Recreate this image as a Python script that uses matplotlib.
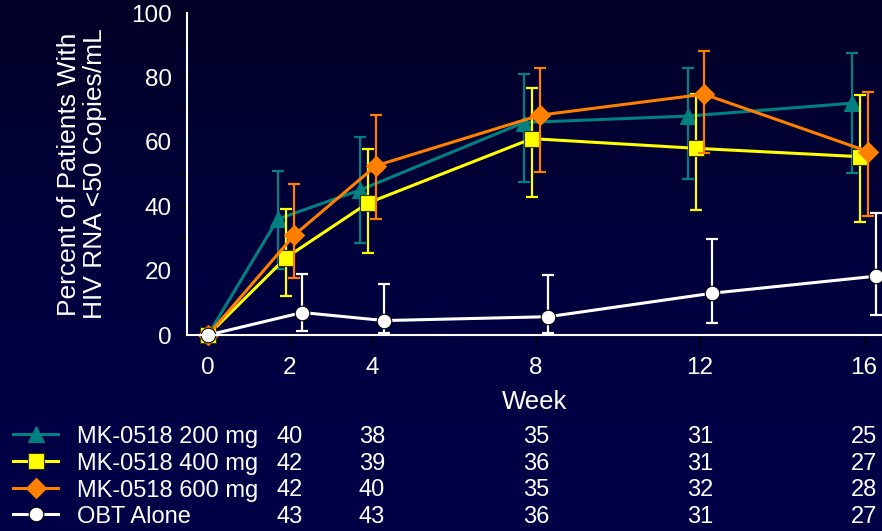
import matplotlib
matplotlib.use('Agg')
import matplotlib.pyplot as plt
import matplotlib.transforms as mtransforms
from matplotlib.lines import Line2D
import numpy as np

plt.rcParams['font.family'] = ['Liberation Sans', 'DejaVu Sans']

# data
weeks = [0, 2, 4, 8, 12, 16]
names = ['MK-0518 200 mg', 'MK-0518 400 mg', 'MK-0518 600 mg', 'OBT Alone']

teal_y = [0, 36, 45, 66, 68, 72]
teal_hi = [0, 51, 61.5, 81, 83, 87.6]
teal_lo = [0, 20.5, 28.5, 47.6, 48.4, 50.4]

yellow_y = [0, 24, 41, 61, 58, 55.4]
yellow_hi = [0, 39, 57.7, 76.6, 75, 74.4]
yellow_lo = [0, 12, 25.4, 43, 38.8, 35.2]

orange_y = [0, 31, 52.6, 68.3, 74.8, 57]
orange_hi = [0, 47, 68.3, 82.8, 88.3, 75.4]
orange_lo = [0, 17.6, 36, 50.5, 56.4, 37]

obt_y = [0, 7, 4.5, 5.7, 13, 18.3]
obt_hi = [0, 19, 15.8, 18.6, 29.7, 37.8]
obt_lo = [0, 1.3, 0.5, 0.7, 3.7, 6.2]

# patients at risk table (weeks 2, 4, 8, 12, 16)
table_weeks = [2, 4, 8, 12, 16]
n_200 = [40, 38, 35, 31, 25]
n_400 = [42, 39, 36, 31, 27]
n_600 = [42, 40, 35, 32, 28]
n_obt = [43, 43, 36, 31, 27]

series = [
    (teal_y, teal_hi, teal_lo, n_200, '#008080', '^', 12, 'none', -0.3),
    (yellow_y, yellow_hi, yellow_lo, n_400, '#FFFF00', 's', 12, '#333300', -0.1),
    (orange_y, orange_hi, orange_lo, n_600, '#FF7F00', 'D', 10, 'none', 0.1),
    (obt_y, obt_hi, obt_lo, n_obt, '#FFFFFF', 'o', 10.5, 'black', 0.3),
]

fig = plt.figure(figsize=(8.82, 5.31), dpi=100)

# navy gradient background
bg = fig.add_axes([0, 0, 1, 1], zorder=-10)
grad = np.linspace(0, 1, 256).reshape(-1, 1)
cmap = matplotlib.colors.LinearSegmentedColormap.from_list('navy', ['#000026', '#00003e', '#000048'])
bg.imshow(grad, aspect='auto', cmap=cmap, extent=[0, 1, 0, 1])
bg.axis('off')

ax = fig.add_axes([0.212, 0.369, 0.788, 0.6064])
ax.set_facecolor('none')

for y, hi, lo, n, col, mk, ms, mec, off in series:
    x = np.array(weeks, dtype=float) + np.where(np.array(weeks) > 0, off, 0)
    y = np.array(y)
    err = [y - np.array(lo), np.array(hi) - y]
    ax.errorbar(x[1:], y[1:], yerr=[e[1:] for e in err], fmt='none', ecolor=col,
                elinewidth=1.6, capsize=4.5, capthick=1.6, clip_on=False)
    ax.plot(x, y, color=col, lw=2.2, marker=mk, markersize=ms,
            markerfacecolor=col, markeredgecolor=(mec if mec != 'none' else col),
            markeredgewidth=0.8, clip_on=False)

ax.set_xlim(-0.512, 16.44)
ax.set_ylim(0, 100)
ax.set_xticks([0, 2, 4, 8, 12, 16])
ax.set_yticks([0, 20, 40, 60, 80, 100])
ax.set_yticks(np.arange(10, 100, 20), minor=True)
for s in ['top', 'right']:
    ax.spines[s].set_visible(False)
for s in ['left', 'bottom']:
    ax.spines[s].set_color('white')
    ax.spines[s].set_linewidth(1.5)
ax.tick_params(axis='x', colors='black', labelcolor='white', length=7.5, width=1,
               labelsize=17.5, pad=8)
ax.tick_params(axis='y', which='both', colors='black', labelcolor='white', length=6,
               width=1, labelsize=17.5, pad=5)

ax.set_xlabel('Week', color='white', fontsize=18.5, labelpad=8)
ax.set_ylabel('Percent of Patients With\nHIV RNA <50 Copies/mL', color='white',
              fontsize=19, linespacing=1.1)
ax.yaxis.set_label_coords(-0.115, 0.5)

# table of patients under the plot
trans = mtransforms.blended_transform_factory(ax.transData, fig.transFigure)
row_y = [437, 464, 490.5, 517]
for (y, hi, lo, n, col, mk, ms, mec, off), name, ry in zip(series, names, row_y):
    fy = 1 - ry / 531
    fig.add_artist(Line2D([13 / 882, 58 / 882], [fy + 3 / 531] * 2, color=col, lw=2.2,
                          transform=fig.transFigure))
    fig.add_artist(Line2D([36 / 882], [fy + 3 / 531], color=col, marker=mk, markersize=ms,
                          markerfacecolor=col,
                          markeredgecolor=(mec if mec != 'none' else col),
                          markeredgewidth=0.8, transform=fig.transFigure))
    fig.text(77 / 882, fy, name, color='white', fontsize=17, va='center', ha='left')
    for tw, v in zip(table_weeks, n):
        fig.text(tw, fy, str(v), color='white', fontsize=17, va='center', ha='center',
                 transform=trans)

fig.savefig('out.png', dpi=100)
